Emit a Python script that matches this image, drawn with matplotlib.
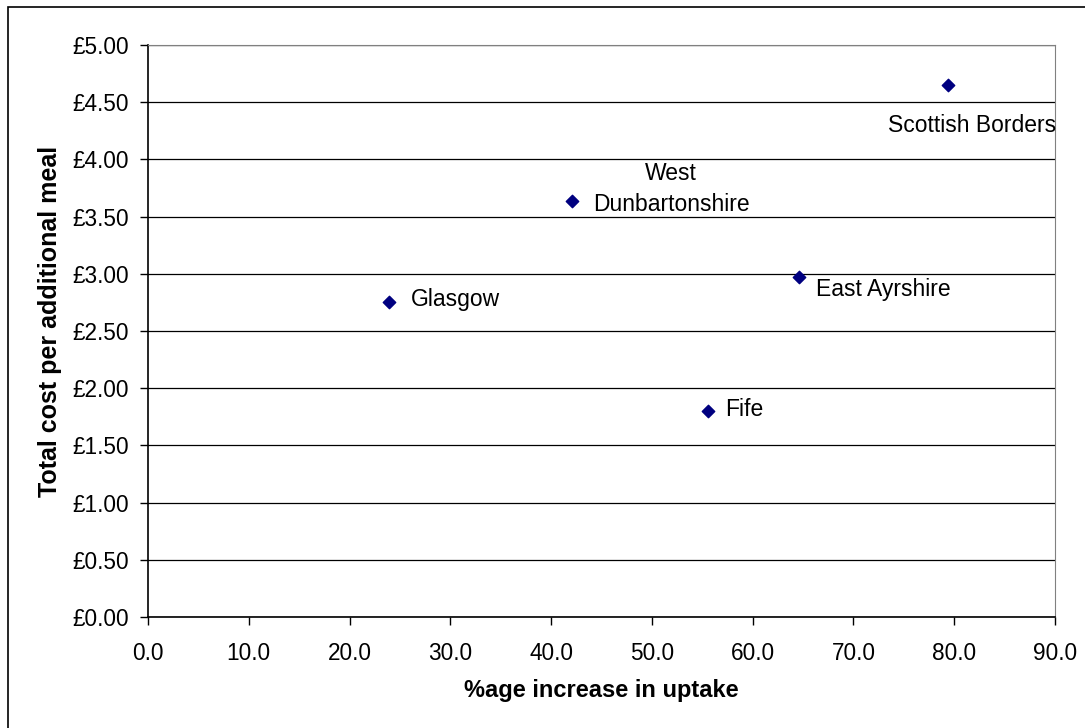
import matplotlib.pyplot as plt
from matplotlib.patches import Rectangle
from matplotlib.ticker import FuncFormatter

plt.rcParams['font.family'] = ['Liberation Sans', 'DejaVu Sans']

areas = ['Glasgow', 'West\nDunbartonshire', 'Fife', 'East Ayrshire', 'Scottish Borders']
uptake_increase = [23.9, 42.1, 55.6, 64.6, 79.4]
cost_per_meal = [2.75, 3.64, 1.80, 2.97, 4.65]
label_offsets = [(22, 3), (99, 12), (17, 2), (17, -12), (24, -40)]
label_ha = ['left', 'center', 'left', 'left', 'center']

fig = plt.figure(figsize=(10.85, 7.28), dpi=100)
ax = fig.add_axes([148 / 1085, 1 - 617 / 728, 907 / 1085, 572 / 728])

ax.scatter(uptake_increase, cost_per_meal, marker='D', s=40, color='#000080', zorder=3)

for name, x, y, off, ha in zip(areas, uptake_increase, cost_per_meal, label_offsets, label_ha):
    ax.annotate(name, (x, y), xytext=off, textcoords='offset pixels',
                ha=ha, va='center', fontsize=16.5, multialignment='center',
                linespacing=1.45)

ax.set_xlim(0, 90)
ax.set_ylim(0, 5)
ax.set_xticks(range(0, 91, 10))
ax.set_yticks([i * 0.5 for i in range(11)])
ax.xaxis.set_major_formatter(FuncFormatter(lambda v, p: f'{v:.1f}'))
ax.yaxis.set_major_formatter(FuncFormatter(lambda v, p: f'£{v:.2f}'))
ax.tick_params(labelsize=16.3, length=6, width=1, direction='out')
ax.tick_params(axis='x', pad=12)
ax.tick_params(axis='y', pad=8)

ax.grid(axis='y', color='black', linewidth=0.9)
ax.set_axisbelow(True)
for s in ['top', 'right']:
    ax.spines[s].set_color('#808080')
for s in ['left', 'bottom']:
    ax.spines[s].set_color('black')
    ax.spines[s].set_linewidth(1.2)

ax.set_xlabel('%age increase in uptake', fontsize=17, fontweight='bold', labelpad=10)
ax.set_ylabel('Total cost per additional meal', fontsize=18, fontweight='bold', labelpad=7)
ax.yaxis.label.set_y(0.517)

fig.patches.append(Rectangle((8 / 1085, -0.01), 1.02, 1 - 7 / 728 + 0.01,
                             transform=fig.transFigure, fill=False,
                             edgecolor='black', linewidth=1.2))

fig.savefig('out.png', dpi=100)
